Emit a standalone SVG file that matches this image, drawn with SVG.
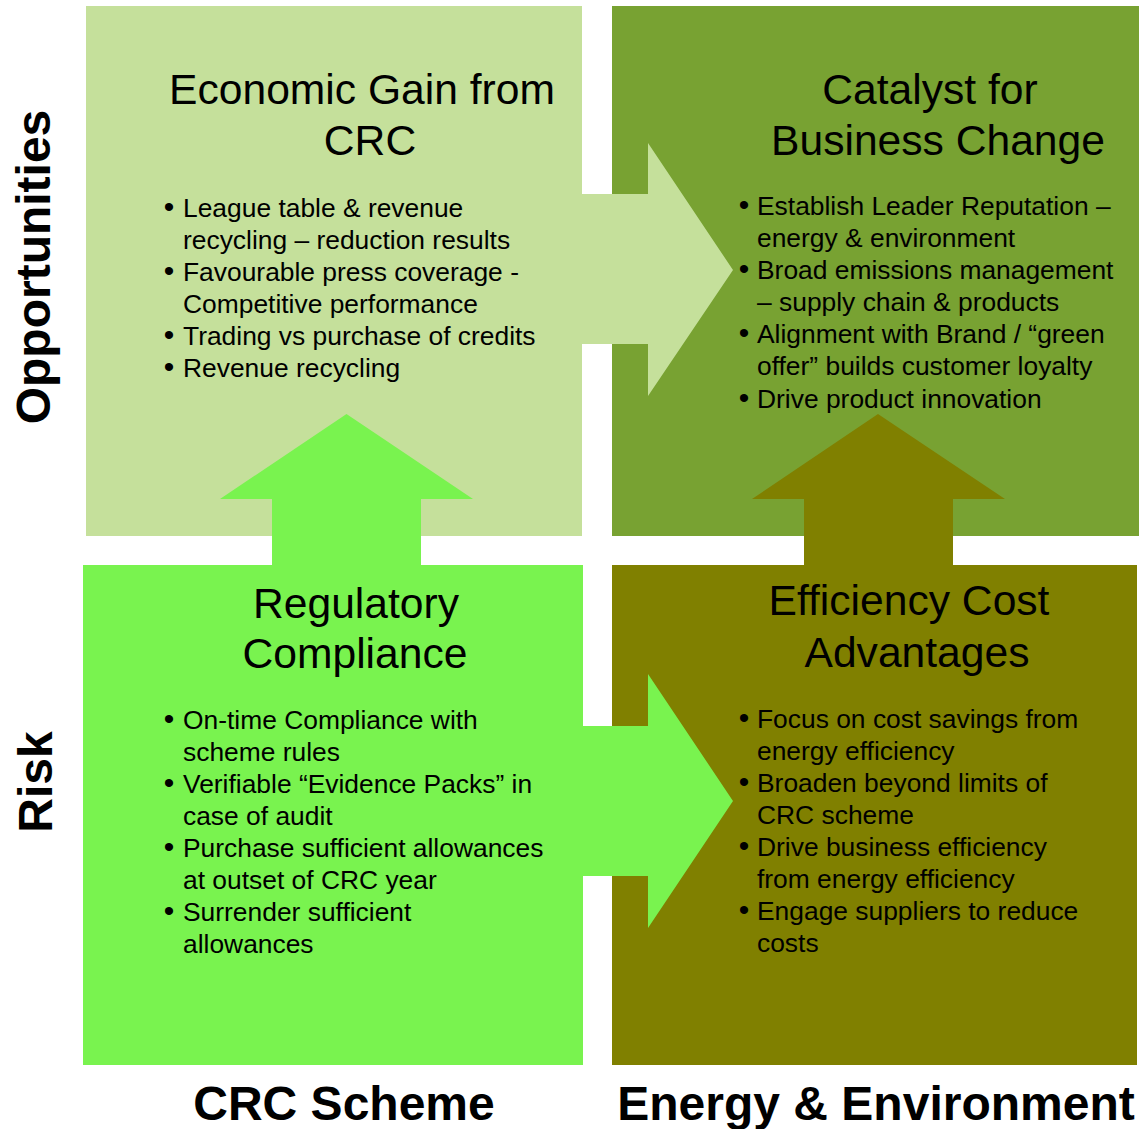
<svg xmlns="http://www.w3.org/2000/svg" width="1139" height="1129" viewBox="0 0 1139 1129">
<style>
text{font-family:"Liberation Sans",Arial,sans-serif;fill:#000}
.t{font-size:42.6px;text-anchor:middle}
.b{font-size:26.4px}
.d{font-size:30px}
.ax{font-size:48px;font-weight:bold;text-anchor:middle}
</style>
<rect width="1139" height="1129" fill="#fff"/>
<g id="box-economic"><rect x="86" y="6" width="496" height="530" fill="#C5E09B"/></g>
<g id="box-catalyst"><rect x="612" y="6" width="527" height="530" fill="#78A232"/></g>
<g id="box-regulatory"><rect x="83" y="565" width="500" height="500" fill="#79F34F"/></g>
<g id="box-efficiency"><rect x="612" y="565" width="525" height="500" fill="#808000"/></g>
<g id="connectors">
<polygon points="570,194 648,194 648,143 733,270 648,396 648,344 570,344" fill="#C5E09B"/>
<polygon points="570,726 648,726 648,674 733,801 648,928 648,876 570,876" fill="#79F34F"/>
<polygon points="272,575 272,499 220,499 346.5,414 473,499 421,499 421,575" fill="#79F34F"/>
<polygon points="804,575 804,499 752,499 878,414 1005,499 953,499 953,575" fill="#808000"/>
</g>
<g id="economic-text">
<text class="t" x="362" y="104">Economic Gain from</text>
<text class="t" x="370" y="155">CRC</text>
<g class="b">
<text class="d" x="163.7" y="217">•</text><text x="183" y="217">League table &amp; revenue</text>
<text x="183" y="249">recycling – reduction results</text>
<text class="d" x="163.7" y="281">•</text><text x="183" y="281">Favourable press coverage -</text>
<text x="183" y="313">Competitive performance</text>
<text class="d" x="163.7" y="345">•</text><text x="183" y="345">Trading vs purchase of credits</text>
<text class="d" x="163.7" y="377">•</text><text x="183" y="377">Revenue recycling</text>
</g>
</g>
<g id="catalyst-text">
<text class="t" x="930" y="104">Catalyst for</text>
<text class="t" x="938" y="155">Business Change</text>
<g class="b">
<text class="d" x="738.7" y="215">•</text><text x="757" y="215">Establish Leader Reputation –</text>
<text x="757" y="247">energy &amp; environment</text>
<text class="d" x="738.7" y="279">•</text><text x="757" y="279">Broad emissions management</text>
<text x="757" y="311">– supply chain &amp; products</text>
<text class="d" x="738.7" y="343">•</text><text x="757" y="343">Alignment with Brand / “green</text>
<text x="757" y="375">offer” builds customer loyalty</text>
<text class="d" x="738.7" y="408">•</text><text x="757" y="408">Drive product innovation</text>
</g>
</g>
<g id="regulatory-text">
<text class="t" x="356" y="618">Regulatory</text>
<text class="t" x="355" y="668">Compliance</text>
<g class="b">
<text class="d" x="163.7" y="729">•</text><text x="183" y="729">On-time Compliance with</text>
<text x="183" y="761">scheme rules</text>
<text class="d" x="163.7" y="793">•</text><text x="183" y="793">Verifiable “Evidence Packs” in</text>
<text x="183" y="825">case of audit</text>
<text class="d" x="163.7" y="857">•</text><text x="183" y="857">Purchase sufficient allowances</text>
<text x="183" y="889">at outset of CRC year</text>
<text class="d" x="163.7" y="921">•</text><text x="183" y="921">Surrender sufficient</text>
<text x="183" y="953">allowances</text>
</g>
</g>
<g id="efficiency-text">
<text class="t" x="909" y="615">Efficiency Cost</text>
<text class="t" x="917" y="667">Advantages</text>
<g class="b">
<text class="d" x="738.7" y="728">•</text><text x="757" y="728">Focus on cost savings from</text>
<text x="757" y="760">energy efficiency</text>
<text class="d" x="738.7" y="792">•</text><text x="757" y="792">Broaden beyond limits of</text>
<text x="757" y="824">CRC scheme</text>
<text class="d" x="738.7" y="856">•</text><text x="757" y="856">Drive business efficiency</text>
<text x="757" y="888">from energy efficiency</text>
<text class="d" x="738.7" y="920">•</text><text x="757" y="920">Engage suppliers to reduce</text>
<text x="757" y="952">costs</text>
</g>
</g>
<g id="axis-labels">
<text class="ax" transform="translate(50,267) rotate(-90)">Opportunities</text>
<text class="ax" transform="translate(52,782) rotate(-90)">Risk</text>
<text class="ax" x="344" y="1120">CRC Scheme</text>
<text class="ax" x="876" y="1120">Energy &amp; Environment</text>
</g>
</svg>
